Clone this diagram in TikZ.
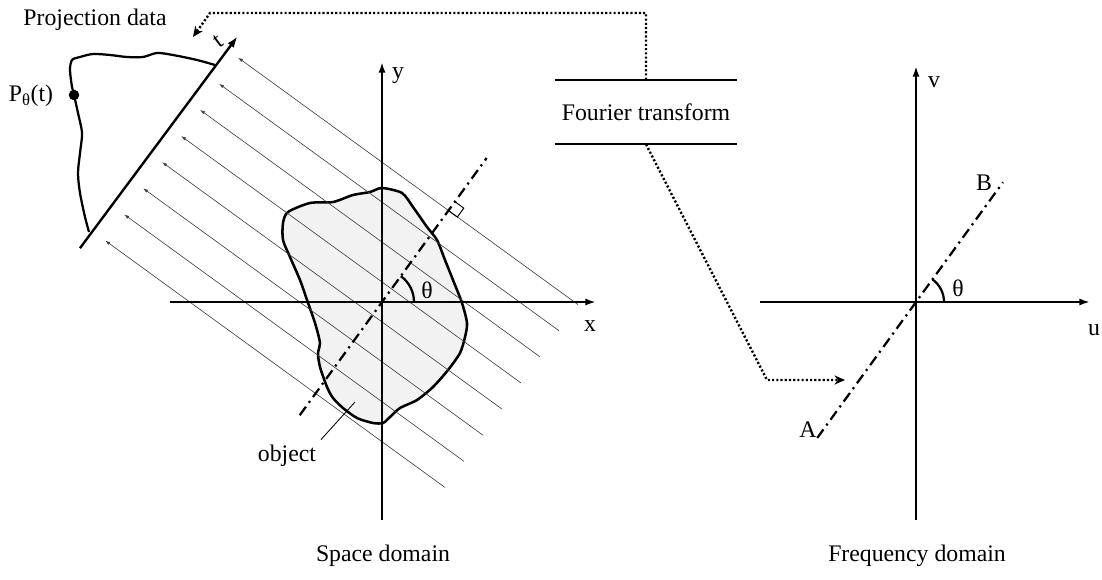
\documentclass[tikz,border=0pt]{standalone}
\usepackage{fontspec}
\setmainfont{Liberation Serif}
\usetikzlibrary{arrows.meta,calc}
\begin{document}
\begin{tikzpicture}[x=0.025cm, y=0.025cm,
    % Estilos de ejes, rayos y flechas
    every node/.style={font=\fontsize{16.9}{20}\selectfont, text=black},
    axis/.style={line width=1.6pt, -{Latex[length=7.5pt,width=5pt]}},
    ray/.style={line width=0.45pt, draw=black!75, -{Latex[length=3.5pt,width=2.4pt]}},
    detector/.style={line width=1.7pt, -{Latex[length=8pt,width=5.5pt]}},
    projline/.style={line width=1.6pt, dash pattern=on 7.5pt off 3.5pt on 1.5pt off 3.5pt},
    flow/.style={line width=1.7pt, dash pattern=on 1.5pt off 1.5pt, -{Stealth[length=7.5pt,width=6.5pt]}},
    anglearc/.style={line width=1.6pt},
    blob/.style={line width=1.8pt, fill=black!5},
    leader/.style={line width=0.6pt}
]
\useasboundingbox (0,0) rectangle (1102,-579);

% ---------------------------------------------------------
% 1. ESPACIO (objeto, rayos, detector)
% ---------------------------------------------------------
\coordinate (O) at (382,-302);

% Objeto
\draw[blob] plot[smooth cycle, tension=0.45] coordinates {
  (382,-188) (402,-193) (413,-207) (427,-227) (437,-240) (445,-260)
  (453,-280) (462,-303) (467,-323) (465,-337) (460,-353) (448,-370)
  (433,-387) (417,-400) (400,-408) (390,-417) (383,-423) (373,-423)
  (357,-418) (343,-408) (333,-398) (327,-387) (320,-367) (318,-353)
  (320,-343) (315,-323) (307,-300) (300,-280) (290,-257) (283,-240)
  (283,-223) (288,-212) (310,-203) (333,-202) (353,-195) (370,-192)};

% Rayos, linea de proyeccion y detector (marco girado)
\begin{scope}[shift={(O)}, rotate=54]
  \foreach \k in {0,...,7} \draw[ray] ({-113+32.3*\k},-160) -- ({-113+32.3*\k},260);
  \draw[projline] (-140,0) -- (178,0);
  \draw[leader, line width=0.7pt] (113,0) -- (113,-11) -- (124,-11) -- (124,0);
  \draw[detector] (-134,276) -- (130,273);
\end{scope}

% Ejes x, y
\draw[axis] ($(O)+(-212,0)$) -- ($(O)+(214,0)$);
\draw[axis] ($(O)+(0,-218)$) -- ($(O)+(0,240)$);
\node (xlab) at (590,-326) {x};
\node (ylab) at (398,-76) {y};
\draw[anglearc] ($(O)+(32,0)$) arc[start angle=0, end angle=54, radius=32];
\node (thetaL) at (427,-290) {θ};

% Curva de proyeccion
\draw[line width=1.6pt] plot[smooth, tension=0.5] coordinates {
  (215,-65) (197,-60) (173,-55) (157,-53) (143,-57) (127,-57) (110,-55)
  (93,-54) (80,-57) (72,-60) (70,-70) (72,-87) (74,-95) (78,-113)
  (82,-133) (80,-153) (78,-173) (80,-193) (85,-217) (89,-232)};
\node[circle, fill=black, inner sep=0pt, minimum size=7.5pt] (pdot) at (74,-95) {};
\node (plab) at (31,-96) {P\textsubscript{θ}(t)};
\node[rotate=36] (tlab) at (218,-41) {t};
\node (projlab) at (95,-20) {Projection data};

% Etiqueta del objeto
\coordinate (objpt) at (355,-402);
\node[anchor=base] (objlab) at (287,-461) {object};
\draw[leader] (objlab.north east) -- (objpt);

% ---------------------------------------------------------
% 2. TRANSFORMADA DE FOURIER
% ---------------------------------------------------------
\node[minimum width=4.55cm, minimum height=1.6cm] (ft) at (646,-112) {Fourier transform};
\draw[line width=1.6pt] (ft.north west) -- (ft.north east);
\draw[line width=1.6pt] (ft.south west) -- (ft.south east);

\coordinate (bendA) at (210,-13);
\coordinate (tipA) at (193,-37);
\draw[flow] (ft.north) |- (bendA) -- (tipA);

\coordinate (bendB) at (767,-380);
\coordinate (tipB) at (845,-380);
\draw[flow] (ft.south) -- (bendB) -- (tipB);

% ---------------------------------------------------------
% 3. FRECUENCIA
% ---------------------------------------------------------
\coordinate (F) at (916,-302);
\draw[projline] ($(F)+(234:168)$) -- ($(F)+(54:148)$);
\draw[axis] ($(F)+(-156,0)$) -- ($(F)+(174,0)$);
\draw[axis] ($(F)+(0,-218)$) -- ($(F)+(0,236)$);
\node (ulab) at (1094,-330) {u};
\node (vlab) at (934,-82) {v};
\draw[anglearc] ($(F)+(28,0)$) arc[start angle=0, end angle=54, radius=28];
\node (thetaR) at (958,-288) {θ};
\node (Alab) at (808,-430) {A};
\node (Blab) at (984,-183) {B};

% Titulos
\node (spacecap) at (383,-556) {Space domain};
\node (freqcap) at (917,-556) {Frequency domain};

\end{tikzpicture}
\end{document}
